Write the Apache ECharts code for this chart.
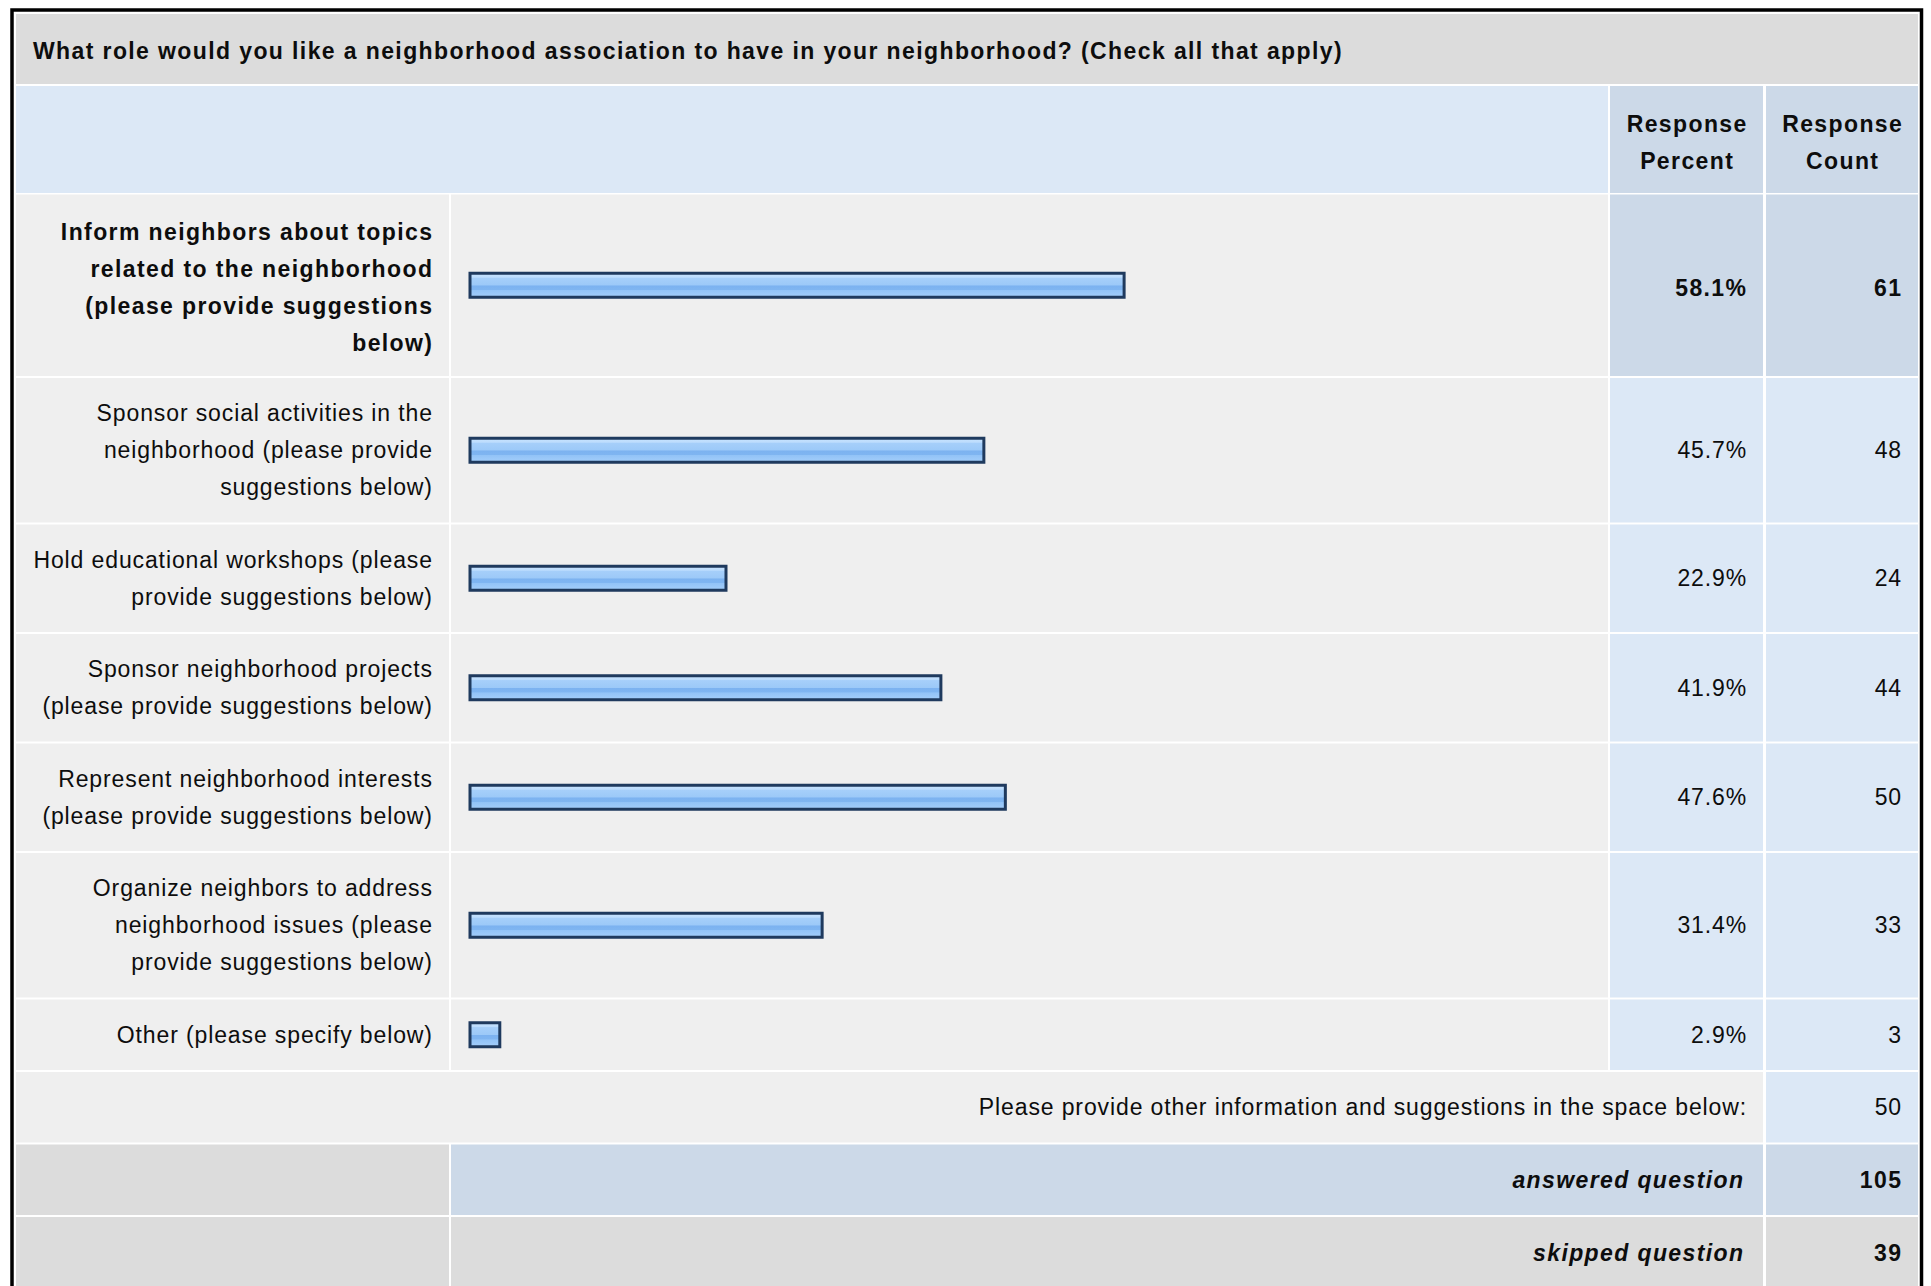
<!DOCTYPE html>
<html><head><meta charset="utf-8">
<script src="https://cdn.jsdelivr.net/npm/echarts@6/dist/echarts.min.js"></script>
<style>
html,body{margin:0;padding:0;background:#fff;}
#chart{width:1931px;height:1286px;}
#chart svg text{letter-spacing:0.88px;}
#chart svg text[style*="bold"]{letter-spacing:1.39px;}
</style></head><body><div id="chart"></div>
<script>
// ---------- data ----------
const title = 'What role would you like a neighborhood association to have in your neighborhood? (Check all that apply)';
const headerLabels = ['Response\nPercent', 'Response\nCount'];
const categories = [
  'Inform neighbors about topics\nrelated to the neighborhood\n(please provide suggestions\nbelow)',
  'Sponsor social activities in the\nneighborhood (please provide\nsuggestions below)',
  'Hold educational workshops (please\nprovide suggestions below)',
  'Sponsor neighborhood projects\n(please provide suggestions below)',
  'Represent neighborhood interests\n(please provide suggestions below)',
  'Organize neighbors to address\nneighborhood issues (please\nprovide suggestions below)',
  'Other (please specify below)'
];
const percents = [58.1, 45.7, 22.9, 41.9, 47.6, 31.4, 2.9];
const counts = [61, 48, 24, 44, 50, 33, 3];
const otherPrompt = 'Please provide other information and suggestions in the space below:';
const otherCount = 50;
const summaryLabels = ['answered question', 'skipped question'];
const summaryCounts = [105, 39];

// ---------- layout / style ----------
const FONT = '"Liberation Sans", Arial, Helvetica, sans-serif';
const FS = 23, LH = 37, PAD = 33.5, GAP = 2;
const X0 = 16, X1 = 1918;
const LABEL_R = 449, BAR_L = 451, BAR_R = 1608, PCT_L = 1610, PCT_R = 1763, CNT_L = 1766;
const PLOT_L = 468.5, PLOT_W = 1131, LABEL_X = 432;
const C_TITLE = '#dcdcdc', C_ROW = '#efefef', C_HEAD = '#dce8f6', C_DARK = '#ccd9e8', C_TEXT = '#0d0d0d';

const maxVal = Math.max(...percents);
const rowTop = [], rowH = [];
let y = 194.5;
categories.forEach(c => {
  const h = c.split('\n').length * LH + PAD;
  rowTop.push(y); rowH.push(h); y += h + GAP;
});
const otherTop = y, otherH = LH + PAD; y += otherH + GAP;
const ansTop = y, ansH = LH + PAD; y += ansH + GAP;
const skipTop = y, skipH = 200;

const els = [];
function rect(x1, y1, x2, y2, fill) {
  els.push({type: 'rect', z: 0, silent: true, shape: {x: x1, y: y1, width: x2 - x1, height: y2 - y1}, style: {fill}});
}
function text(str, x, yy, align, opt) {
  opt = opt || {};
  els.push({type: 'text', z: 20, silent: true, style: {
    text: str, x, y: yy, textAlign: align, textVerticalAlign: 'middle', verticalAlign: 'middle',
    fontSize: FS, fontFamily: FONT, fontWeight: opt.bold ? 'bold' : 'normal',
    fontStyle: opt.italic ? 'italic' : 'normal', lineHeight: LH, fill: C_TEXT
  }});
}

// title row
rect(X0, 14, X1, 84, C_TITLE);
text(title, 33, 51, 'left', {bold: true});
// header row
rect(X0, 86, BAR_R, 193, C_HEAD);
rect(PCT_L, 86, PCT_R, 193, C_DARK);
rect(CNT_L, 86, X1, 193, C_DARK);
text(headerLabels[0], (PCT_L + PCT_R) / 2 + 0.7, 142.5, 'center', {bold: true});
text(headerLabels[1], (CNT_L + X1) / 2 + 0.7, 142.5, 'center', {bold: true});
// data rows
const rowDY = categories.map((c, i) => percents[i] === maxVal ? 2.5 : 0);
categories.forEach((c, i) => {
  const t = rowTop[i], b = t + rowH[i], cy = t + rowH[i] / 2 + rowDY[i];
  const isMax = percents[i] === maxVal;
  rect(X0, t, LABEL_R, b, C_ROW);
  rect(BAR_L, t, BAR_R, b, C_ROW);
  rect(PCT_L, t, PCT_R, b, isMax ? C_DARK : C_HEAD);
  rect(CNT_L, t, X1, b, isMax ? C_DARK : C_HEAD);
  text(percents[i].toFixed(1) + '%', isMax ? 1747.4 : 1747, cy, 'right', {bold: isMax});
  text(String(counts[i]), isMax ? 1902.4 : 1902, cy, 'right', {bold: isMax});
});
// other row
rect(X0, otherTop, PCT_R, otherTop + otherH, C_ROW);
rect(CNT_L, otherTop, X1, otherTop + otherH, C_HEAD);
text(otherPrompt, 1747, otherTop + otherH / 2, 'right');
text(String(otherCount), 1902, otherTop + otherH / 2, 'right');
// answered row
rect(X0, ansTop, LABEL_R, ansTop + ansH, C_TITLE);
rect(BAR_L, ansTop, PCT_R, ansTop + ansH, C_DARK);
rect(CNT_L, ansTop, X1, ansTop + ansH, C_DARK);
text(summaryLabels[0], 1744.4, ansTop + ansH / 2, 'right', {bold: true, italic: true});
text(String(summaryCounts[0]), 1902.4, ansTop + ansH / 2, 'right', {bold: true});
// skipped row
rect(X0, skipTop, LABEL_R, skipTop + skipH, C_TITLE);
rect(BAR_L, skipTop, PCT_R, skipTop + skipH, C_TITLE);
rect(CNT_L, skipTop, X1, skipTop + skipH, C_TITLE);
text(summaryLabels[1], 1744.4, skipTop + ansH / 2 + 0.5, 'right', {bold: true, italic: true});
text(String(summaryCounts[1]), 1902.4, skipTop + ansH / 2 + 0.5, 'right', {bold: true});
// outer frame
els.push({type: 'rect', z: 30, silent: true, shape: {x: 12, y: 10, width: 1909.5, height: 1400},
  style: {fill: 'none', stroke: '#000', lineWidth: 3.5}});

const barFill = new echarts.graphic.LinearGradient(0, 0, 0, 1, [
  {offset: 0, color: '#c9e4fe'},
  {offset: 0.17, color: '#bcdcfd'},
  {offset: 0.2, color: '#a6cffa'},
  {offset: 0.5, color: '#9cc9f8'},
  {offset: 0.52, color: '#7cb2f0'},
  {offset: 0.68, color: '#7fb5f1'},
  {offset: 0.71, color: '#92c3f7'},
  {offset: 1, color: '#a4cefa'}
]);

const grid = [], xAxis = [], yAxis = [], series = [];
categories.forEach((c, i) => {
  const isMax = percents[i] === maxVal;
  grid.push({left: PLOT_L, width: PLOT_W, top: rowTop[i], height: rowH[i], containLabel: false});
  xAxis.push({gridIndex: i, type: 'value', min: 0, max: 100, show: false});
  yAxis.push({gridIndex: i, type: 'category', data: [c],
    axisLine: {show: false}, axisTick: {show: false}, splitLine: {show: false}, axisLabel: {show: false}});
  series.push({type: 'bar', xAxisIndex: i, yAxisIndex: i, data: [percents[i]], barWidth: 27, z: 5,
    silent: true, itemStyle: {color: barFill, borderColor: '#1f3a5e', borderWidth: 3},
    label: {show: true, position: 'left', distance: PLOT_L - LABEL_X - (isMax ? 1.39 : 0.88), offset: [0, rowDY[i]],
      formatter: '{b}', align: 'right', verticalAlign: 'middle',
      fontSize: FS, fontFamily: FONT, lineHeight: LH, color: C_TEXT,
      fontWeight: isMax ? 'bold' : 'normal'}});
});

const chart = echarts.init(document.getElementById('chart'), null, {renderer: 'svg'});
chart.setOption({
  animation: false,
  backgroundColor: '#fff',
  grid, xAxis, yAxis, series,
  graphic: {elements: els}
});
</script></body></html>
